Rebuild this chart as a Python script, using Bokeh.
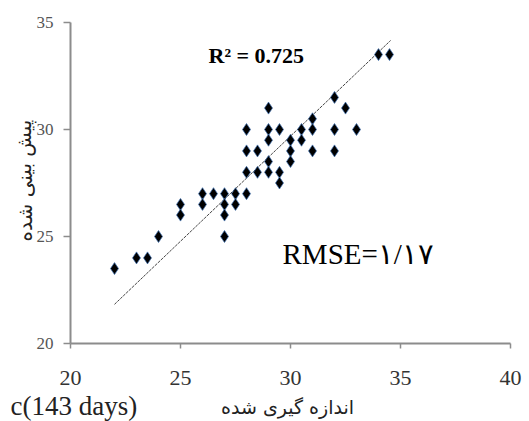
from bokeh.plotting import figure
from bokeh.models import Label, FixedTicker, Range1d
from bokeh.embed import file_html
from bokeh.resources import INLINE

# measured (x) vs predicted (y)
measured = [22, 23, 23.5, 24, 25, 25, 26, 26, 26.5, 27, 27, 27, 27, 27.5, 27.5,
            28, 28, 28, 28, 28.5, 28.5, 29, 29, 29, 29, 29, 29.5, 29.5, 29.5,
            30, 30, 30, 30.5, 30.5, 31, 31, 31, 32, 32, 32, 32.5, 33, 34, 34.5]
predicted = [23.5, 24, 24, 25, 26.5, 26, 27, 26.5, 27, 27, 26.5, 26, 25, 27, 26.5,
             27, 28, 29, 30, 29, 28, 31, 30, 29.5, 28.5, 28, 30, 28, 27.5,
             29.5, 29, 28.5, 30, 29.5, 30.5, 30, 29, 31.5, 30, 29, 31, 30, 33.5, 33.5]

# trend line end points
trend_x = [22.0, 34.55]
trend_y = [21.83, 34.16]

x_ticks = [20, 25, 30, 35, 40]
y_ticks = [20, 25, 30, 35]
x_bounds = (20, 40)
y_bounds = (20, 35)

r2_text = "R\u00b2 = 0.725"
rmse_text = "RMSE=\u06f1/\u06f1\u06f7"
x_title = "اندازه گیری شده"
y_title = "پیش بینی شده"
panel_text = "c(143 days)"

W, H = 529, 421
# pixel placement of the axes box inside the page
AX_L, AX_R, AX_T, AX_B = 70, 510, 22, 343
xppu = (AX_R - AX_L) / (x_bounds[1] - x_bounds[0])
yppu = (AX_B - AX_T) / (y_bounds[1] - y_bounds[0])
x_range = Range1d(x_bounds[0] - AX_L / xppu, x_bounds[1] + (W - AX_R) / xppu)
y_range = Range1d(y_bounds[0] - (H - AX_B) / yppu, y_bounds[1] + AX_T / yppu)

p = figure(width=W, height=H, output_backend="svg", toolbar_location=None,
           x_range=x_range, y_range=y_range, min_border=0)
p.outline_line_color = None
p.grid.visible = False
p.background_fill_color = "white"
p.border_fill_color = "white"

p.xaxis.fixed_location = y_bounds[0]
p.yaxis.fixed_location = x_bounds[0]
p.xaxis.bounds = x_bounds
p.yaxis.bounds = y_bounds

for ax in (p.xaxis[0], p.yaxis[0]):
    ax.axis_line_color = "#8c8c8c"
    ax.axis_line_width = 2
    ax.major_tick_line_color = "#8c8c8c"
    ax.major_tick_line_width = 1.5
    ax.major_tick_in = 0
    ax.minor_tick_line_color = None
    ax.major_label_text_font = "Liberation Serif"

p.xaxis.ticker = FixedTicker(ticks=x_ticks)
p.yaxis.ticker = FixedTicker(ticks=y_ticks)
p.xaxis.major_tick_out = 5
p.yaxis.major_tick_out = 7
p.xaxis.major_label_text_font_size = "22px"
p.xaxis.major_label_text_color = "#333333"
p.xaxis.major_label_standoff = 22
p.yaxis.major_label_text_font_size = "17px"
p.yaxis.major_label_text_color = "#555555"
p.yaxis.major_label_standoff = 10

p.line(trend_x, trend_y, line_color="#444444", line_width=1, line_dash="3 1")
p.scatter(measured, predicted, marker="diamond", size=12,
          fill_color="black", line_color="#3d6fb0", line_width=1, line_alpha=0.7)

def add_label(px, py, text, **kw):
    p.add_layout(Label(x=px, y=H - py, x_units="screen", y_units="screen",
                       text=text, **kw))

add_label(208, 55, r2_text, text_font="Liberation Serif", text_font_style="bold",
          text_font_size="22px", text_baseline="middle", text_color="black")
add_label(282, 253, rmse_text, text_font="Liberation Serif",
          text_font_size="29px", text_baseline="alphabetic", text_color="black")
add_label(10, 405, panel_text, text_font="Liberation Serif",
          text_font_size="27px", text_baseline="alphabetic", text_color="#222222")
add_label(287, 406, x_title, text_font="DejaVu Sans", text_align="center",
          text_font_size="19px", text_baseline="middle", text_color="#222222")
add_label(24, 180, y_title, text_font="DejaVu Sans", text_align="center",
          text_font_size="20px", text_baseline="middle", angle=1.5708,
          text_color="#222222")

open("out.html", "w").write(file_html(p, INLINE))
